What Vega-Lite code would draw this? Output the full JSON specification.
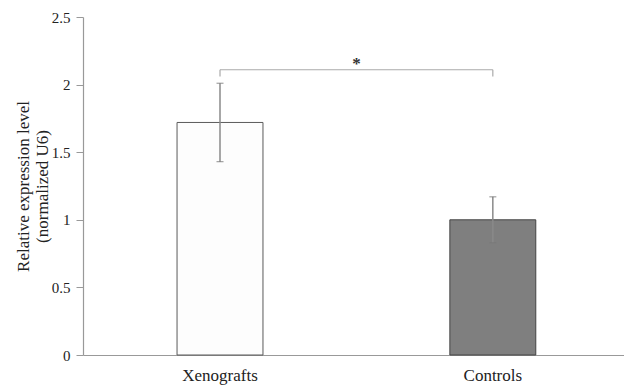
{
  "$schema": "https://vega.github.io/schema/vega-lite/v6.json",
  "width": 541,
  "height": 338,
  "autosize": "none",
  "padding": {"left": 83, "top": 17, "right": 0, "bottom": 37},
  "background": "white",
  "config": {
    "view": {"stroke": null},
    "font": "Liberation Serif"
  },
  "datasets": {
    "bars": [
      {"group": "Xenografts", "value": 1.72, "lo": 1.43, "hi": 2.01},
      {"group": "Controls", "value": 1.0, "lo": 0.83, "hi": 1.17}
    ],
    "bracket": [
      {"from": "Xenografts", "to": "Controls", "y": 2.11, "label": "*", "ytext": 2.155}
    ],
    "legs": [
      {"group": "Xenografts", "ylo": 2.06, "yhi": 2.11},
      {"group": "Controls", "ylo": 2.06, "yhi": 2.11}
    ]
  },
  "encoding": {
    "x": {
      "field": "group",
      "type": "nominal",
      "scale": {"domain": ["Xenografts", "Controls"], "paddingInner": 0.685, "paddingOuter": 0.334, "align": 0.516},
      "axis": {
        "title": null,
        "labelAngle": 0,
        "labelFont": "Liberation Serif",
        "labelFontSize": 17,
        "labelColor": "#222",
        "labelPadding": 12,
        "ticks": false,
        "domainColor": "#999",
        "domainWidth": 1.2
      }
    }
  },
  "layer": [
    {
      "data": {"name": "bars"},
      "mark": {"type": "bar", "strokeWidth": 1},
      "encoding": {
        "y": {
          "field": "value",
          "type": "quantitative",
          "scale": {"domain": [0, 2.5], "nice": false},
          "axis": {
            "values": [0, 0.5, 1, 1.5, 2, 2.5],
            "labelExpr": "toString(datum.value)",
            "grid": false,
            "title": ["Relative expression level", "(normalized U6)"],
            "titleFont": "Liberation Serif",
            "titleFontSize": 17,
            "titleFontWeight": "normal",
            "titleColor": "#222",
            "titleLineHeight": 19,
            "titlePadding": 0,
            "labelFont": "Liberation Serif",
            "labelFontSize": 15,
            "labelColor": "#222",
            "labelPadding": 6,
            "tickSize": 7,
            "tickColor": "#999",
            "domainColor": "#999",
            "domainWidth": 1.2
          }
        },
        "fill": {
          "field": "group",
          "type": "nominal",
          "scale": {"domain": ["Xenografts", "Controls"], "range": ["#fdfdfd", "#7f7f7f"]},
          "legend": null
        },
        "stroke": {
          "field": "group",
          "type": "nominal",
          "scale": {"domain": ["Xenografts", "Controls"], "range": ["#5a5a5a", "#444444"]},
          "legend": null
        }
      }
    },
    {
      "data": {"name": "bars"},
      "mark": {"type": "rule", "color": "#8a8a8a", "strokeWidth": 1.5},
      "encoding": {
        "y": {"field": "lo", "type": "quantitative"},
        "y2": {"field": "hi"}
      }
    },
    {
      "data": {"name": "bars"},
      "mark": {"type": "tick", "orient": "horizontal", "color": "#777", "size": 7, "thickness": 1.2},
      "encoding": {"y": {"field": "lo", "type": "quantitative"}}
    },
    {
      "data": {"name": "bars"},
      "mark": {"type": "tick", "orient": "horizontal", "color": "#777", "size": 7, "thickness": 1.2},
      "encoding": {"y": {"field": "hi", "type": "quantitative"}}
    },
    {
      "data": {"name": "bracket"},
      "mark": {"type": "rule", "color": "#aaaaaa", "strokeWidth": 1.2},
      "encoding": {
        "x": {"field": "from", "type": "nominal"},
        "x2": {"field": "to"},
        "y": {"field": "y", "type": "quantitative"}
      }
    },
    {
      "data": {"name": "legs"},
      "mark": {"type": "rule", "color": "#aaaaaa", "strokeWidth": 1.2},
      "encoding": {
        "y": {"field": "ylo", "type": "quantitative"},
        "y2": {"field": "yhi"}
      }
    },
    {
      "data": {"name": "bracket"},
      "mark": {"type": "text", "font": "Liberation Serif", "fontSize": 17, "fontWeight": "bold", "color": "#333", "dx": 136.5, "baseline": "middle"},
      "encoding": {
        "x": {"field": "from", "type": "nominal"},
        "y": {"field": "ytext", "type": "quantitative"},
        "text": {"field": "label"}
      }
    }
  ]
}
